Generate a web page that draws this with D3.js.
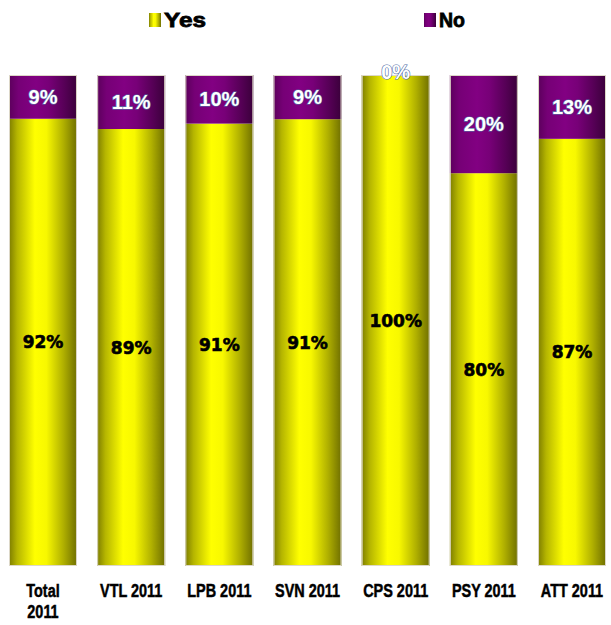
<!DOCTYPE html>
<html>
<head>
<meta charset="utf-8">
<script src="https://cdn.jsdelivr.net/npm/d3@7"></script>
<style>
  html, body { margin: 0; padding: 0; background: #ffffff; }
  svg { display: block; }
</style>
</head>
<body>
<div id="chart"></div>
<script>
// Survey answers per unit, 2011 (percent labels as reported)
const categories = ["Total 2011", "VTL 2011", "LPB 2011", "SVN 2011", "CPS 2011", "PSY 2011", "ATT 2011"];
const yesValues = [92, 89, 91, 91, 100, 80, 87];
const noValues  = [9, 11, 10, 9, 0, 20, 13];
const seriesNames = ["Yes", "No"];

const W = 611, H = 625;
const svg = d3.select("#chart").append("svg").attr("width", W).attr("height", H);

// Cylinder-like horizontal shading for each series
const defs = svg.append("defs");
function shade(id, stops) {
  const g = defs.append("linearGradient").attr("id", id)
    .attr("x1", "0%").attr("x2", "100%").attr("y1", "0%").attr("y2", "0%");
  stops.forEach(([o, c]) => g.append("stop").attr("offset", o).attr("stop-color", c));
}
shade("gYes", [["0%", "#7d7d00"], ["12%", "#b5b500"], ["38%", "#ffff00"], ["55%", "#f8f800"], ["80%", "#b0b000"], ["100%", "#6f6f00"]]);
shade("gNo",  [["0%", "#5c005c"], ["14%", "#760076"], ["40%", "#820082"], ["58%", "#780078"], ["82%", "#560056"], ["100%", "#3a003a"]]);
const fills = { Yes: "url(#gYes)", No: "url(#gNo)" };

const rows = categories.map((c, i) => ({ cat: c, Yes: yesValues[i], No: noValues[i] }));
const stack = d3.stack().keys(seriesNames).offset(d3.stackOffsetExpand);
const layers = stack(rows);

const x = d3.scaleBand().domain(categories).range([9, 606]).paddingInner(0.229).paddingOuter(0);
const y = d3.scaleLinear().domain([0, 1]).range([566, 75]);

// Stacked segments
const layerG = svg.selectAll("g.layer").data(layers).join("g").attr("class", "layer")
  .attr("fill", d => fills[d.key]);
layerG.selectAll("rect").data(d => d).join("rect")
  .attr("x", d => x(d.data.cat))
  .attr("width", x.bandwidth())
  .attr("y", d => y(d[1]))
  .attr("height", d => Math.max(0, y(d[0]) - y(d[1])));

// Thin light outline round each full column
svg.append("g").selectAll("rect").data(categories).join("rect")
  .attr("x", d => x(d) + 0.5).attr("width", x.bandwidth() - 1)
  .attr("y", y(1) + 0.5).attr("height", y(0) - y(1) - 1)
  .attr("fill", "none").attr("stroke", "#ddd8c8").attr("stroke-width", 1);

// Value labels, centred in each segment
const labelG = svg.append("g");
layers.forEach(layer => {
  const isYes = layer.key === "Yes";
  labelG.selectAll(null).data(layer).join("text")
    .attr("x", d => x(d.data.cat) + x.bandwidth() / 2)
    .attr("y", d => (y(d[0]) + y(d[1])) / 2 + (!isYes && d.data.No === 0 ? -3 : 0))
    .attr("text-anchor", "middle")
    .attr("dominant-baseline", "central")
    .style("font-family", isYes ? "'DejaVu Sans', sans-serif" : "'Liberation Sans', Arial, sans-serif")
    .style("font-weight", "bold")
    .style("font-size", isYes ? "17px" : "20px")
    .attr("fill", isYes ? "#000000" : "#ffffff")
    .attr("stroke", isYes ? "#000000" : "#5470a8")
    .attr("stroke-width", isYes ? 0.6 : 1.2)
    .attr("paint-order", "stroke")
    .text(d => d.data[layer.key] + "%");
});

// Category axis (no line, no ticks); labels squeezed horizontally into a
// condensed bold look, wrapped when a label is wider than its column
const condense = 0.76;
const axis = d3.axisBottom(x).tickSize(0).tickPadding(0);
const axisG = svg.append("g").attr("transform", `translate(0, ${y(0)})`).call(axis);
axisG.select(".domain").remove();
axisG.selectAll("text")
  .style("font-family", "'Liberation Sans', Arial, sans-serif")
  .style("font-weight", "bold")
  .style("font-size", "19px")
  .attr("fill", "#000")
  .attr("stroke", "#000")
  .attr("stroke-width", 0.5)
  .attr("dy", null)
  .attr("y", 0)
  .attr("transform", `scale(${condense},1)`)
  .each(function(label) {
    const t = d3.select(this);
    const words = label.split(" ");
    t.text(null);
    const maxW = 68;
    const probe = t.append("tspan");
    const width = s => { probe.text(s); return probe.node().getComputedTextLength() * condense; };
    let lines = [], line = [];
    words.forEach(w => {
      const trial = line.concat([w]).join(" ");
      if (line.length && width(trial) > maxW) {
        lines.push(line.join(" "));
        line = [w];
      } else {
        line.push(w);
      }
    });
    lines.push(line.join(" "));
    probe.remove();
    lines.forEach((ln, i) => {
      t.append("tspan").attr("x", 0).attr("y", 31 + i * 21).text(ln);
    });
  });

// Legend
const legend = svg.append("g");
const legendItems = [{ key: "Yes", x: 149, w: 42 }, { key: "No", x: 424, w: 26 }];
legendItems.forEach(it => {
  legend.append("rect").attr("x", it.x).attr("y", 13).attr("width", 12).attr("height", 14)
    .attr("fill", fills[it.key]);
  legend.append("text").attr("x", it.x + 15).attr("y", 27)
    .style("font-family", "'Liberation Sans', Arial, sans-serif")
    .style("font-weight", "bold")
    .style("font-size", "21px")
    .attr("fill", "#000").attr("stroke", "#000").attr("stroke-width", 0.8)
    .attr("textLength", it.w).attr("lengthAdjust", "spacingAndGlyphs")
    .text(it.key);
});
</script>
</body>
</html>
